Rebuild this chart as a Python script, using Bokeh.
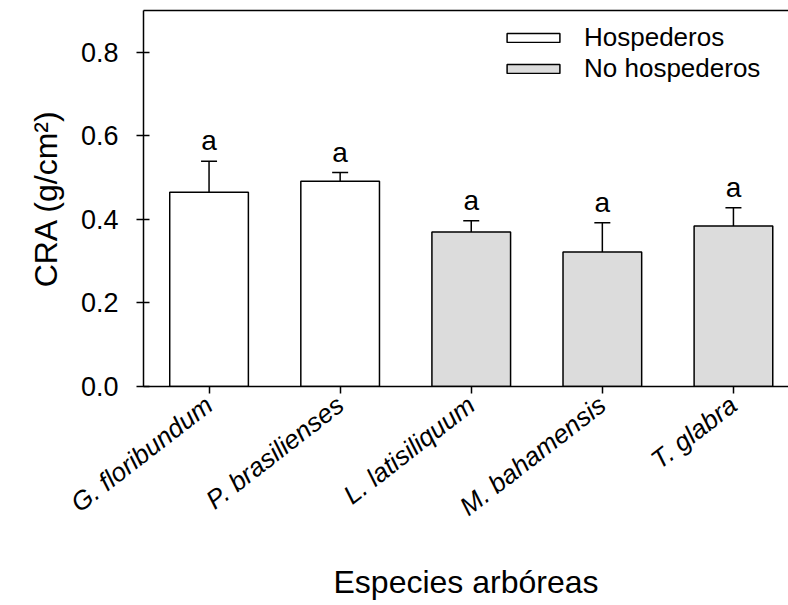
from bokeh.plotting import figure
from bokeh.models import (ColumnDataSource, Range1d, FixedTicker, NumeralTickFormatter,
                          Whisker, TeeHead, Legend, LegendItem, LinearAxis)
from bokeh.core.properties import value
from bokeh.embed import file_html
from bokeh.resources import INLINE

# Data: mean CRA per tree species with standard error and group
species = ["G. floribundum", "P. brasilienses", "L. latisiliquum", "M. bahamensis", "T. glabra"]
cra_mean = [0.465, 0.491, 0.370, 0.322, 0.384]
cra_err = [0.074, 0.021, 0.027, 0.070, 0.044]
groups = ["Hospederos", "Hospederos", "No hospederos", "No hospederos", "No hospederos"]
letters = ["a", "a", "a", "a", "a"]
y_ticks = [0.0, 0.2, 0.4, 0.6, 0.8]

group_order = ["Hospederos", "No hospederos"]
group_fill = {"Hospederos": "#ffffff", "No hospederos": "#dcdcdc"}

FONT = "Liberation Sans"

xs = list(range(len(species)))
upper = [m + e for m, e in zip(cra_mean, cra_err)]

p = figure(width=788, height=605, output_backend="svg", toolbar_location=None,
           x_range=Range1d(-0.5, 4.42), y_range=Range1d(0, 0.9),
           min_border_left=143, min_border_right=0, min_border_top=10, min_border_bottom=219)
p.outline_line_color = None
p.grid.visible = False
p.background_fill_color = "white"
p.border_fill_color = "white"

# Bars, one renderer per group for the legend
items = []
for g in group_order:
    idx = [i for i, gg in enumerate(groups) if gg == g]
    src = ColumnDataSource(dict(x=[xs[i] for i in idx], top=[cra_mean[i] for i in idx]))
    r = p.vbar(x="x", top="top", bottom=0, width=0.6, source=src,
               fill_color=group_fill[g], line_color="black", line_width=1.5)
    items.append(LegendItem(label=g, renderers=[r]))

# Upper error bars
err_src = ColumnDataSource(dict(x=xs, mean=cra_mean, upper=upper, letter=letters))
p.add_layout(Whisker(source=err_src, base="x", lower="mean", upper="upper",
                     dimension="height", line_color="black", line_width=1.5,
                     lower_head=None,
                     upper_head=TeeHead(size=16, line_color="black", line_width=1.5)))

# Significance letters
p.text(x="x", y="upper", text="letter", source=err_src, text_align="center",
       text_baseline="bottom", y_offset=-5, text_font=value(FONT),
       text_font_size="28px", text_color="black")

# Y axis
yax = p.yaxis[0]
yax.ticker = FixedTicker(ticks=y_ticks)
yax.formatter = NumeralTickFormatter(format="0.0")
yax.minor_tick_line_color = None
yax.major_tick_in = 6
yax.major_tick_out = 7
yax.major_label_standoff = 18
yax.major_label_text_font = FONT
yax.major_label_text_font_size = "27px"
yax.major_label_text_color = "black"
yax.axis_line_width = 1.5
yax.major_tick_line_width = 1.5
yax.axis_label = "CRA (g/cm²)"
yax.axis_label_text_font = FONT
yax.axis_label_text_font_size = "32px"
yax.axis_label_text_font_style = "normal"
yax.axis_label_text_color = "black"
yax.axis_label_standoff = 14

# X axis with species names
xax = p.xaxis[0]
xax.ticker = FixedTicker(ticks=xs)
xax.major_label_overrides = {i: s for i, s in zip(xs, species)}
xax.major_label_orientation = 0.66
xax.minor_tick_line_color = None
xax.major_tick_in = 0
xax.major_tick_out = 7
xax.major_label_standoff = 8
xax.major_label_text_font = FONT
xax.major_label_text_font_size = "26px"
xax.major_label_text_font_style = "italic"
xax.major_label_text_color = "black"
xax.axis_line_width = 1.5
xax.major_tick_line_width = 1.5
xax.axis_label = "Especies arbóreas"
xax.axis_label_text_font = FONT
xax.axis_label_text_font_size = "32px"
xax.axis_label_text_font_style = "normal"
xax.axis_label_text_color = "black"
xax.axis_label_standoff = 28

# Top frame line
top = LinearAxis(ticker=FixedTicker(ticks=[]), major_label_text_font_size="0px",
                 major_tick_line_color=None, minor_tick_line_color=None,
                 axis_line_width=1.5, axis_line_color="black")
p.add_layout(top, "above")

legend = Legend(items=items, location=(357, 302), glyph_width=66, glyph_height=11,
                label_text_font=FONT, label_text_font_size="26px", label_text_color="black",
                label_standoff=18, spacing=0, padding=0, margin=0,
                border_line_color=None, background_fill_alpha=0)
p.add_layout(legend)

open("out.html", "w").write(file_html(p, INLINE))
